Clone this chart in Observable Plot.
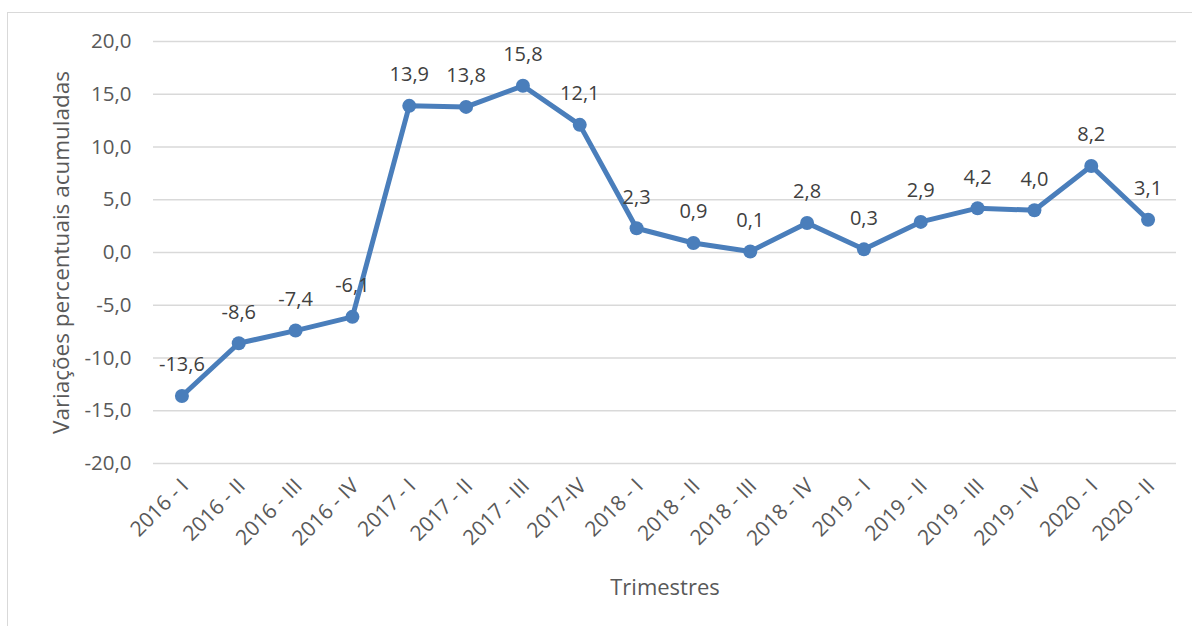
<!DOCTYPE html>
<html>
<head>
<meta charset="utf-8">
<script src="https://cdn.jsdelivr.net/npm/d3@7"></script>
<script src="https://cdn.jsdelivr.net/npm/@observablehq/plot@0.6"></script>
<style>
  html, body { margin: 0; padding: 0; background: #fff; }
  #wrap { position: relative; width: 1192px; height: 626px; overflow: hidden; }
  #border { position: absolute; left: 7px; top: 12px; width: 1300px; height: 800px; border: 1px solid #d9d9d9; box-sizing: border-box; }
  #chart { position: absolute; left: 0; top: 0; }
</style>
</head>
<body>
<div id="wrap"><div id="border"></div><div id="chart"></div></div>
<script>
const categories = ["2016 - I","2016 - II","2016 - III","2016 - IV","2017 - I","2017 - II","2017 - III","2017-IV","2018 - I","2018 - II","2018 - III","2018 - IV","2019 - I","2019 - II","2019 - III","2019 - IV","2020 - I","2020 - II"];
const values = [-13.6,-8.6,-7.4,-6.1,13.9,13.8,15.8,12.1,2.3,0.9,0.1,2.8,0.3,2.9,4.2,4.0,8.2,3.1];
const yTicks = [-20,-15,-10,-5,0,5,10,15,20];
const yTitle = "Variações percentuais acumuladas";
const xTitle = "Trimestres";

const data = categories.map((c, i) => ({cat: c, v: values[i]}));
const fmt = v => v.toFixed(1).replace(".", ",");
const font = "'Open Sans', sans-serif";

const chart = Plot.plot({
  width: 1192,
  height: 626,
  marginLeft: 153,
  marginRight: 16,
  marginTop: 41,
  marginBottom: 163,
  style: {fontFamily: font, background: "transparent", color: "#595959"},
  x: {type: "point", domain: categories, padding: 0.5, round: false},
  y: {domain: [-20, 20]},
  marks: [
    Plot.ruleY(yTicks, {stroke: "#d9d9d9", strokeWidth: 1.3}),
    Plot.axisY(yTicks, {tickSize: 0, tickPadding: 22, tickFormat: fmt, fontSize: 20.5, fill: "#595959", label: null}),
    Plot.axisX({tickSize: 0, tickPadding: 19, tickRotate: -45, fontSize: 21, fill: "#595959", label: null, dx: 3}),
    Plot.text([yTitle], {frameAnchor: "left", dx: -92, rotate: -90, textAnchor: "middle", fontSize: 22.5, fill: "#595959"}),
    Plot.text([xTitle], {frameAnchor: "bottom", dy: 131, fontSize: 22, fill: "#595959"}),
    Plot.line(data, {x: "cat", y: "v", stroke: "#4a7ebb", strokeWidth: 5, strokeLinejoin: "round"}),
    Plot.dot(data, {x: "cat", y: "v", r: 7, fill: "#4a7ebb", stroke: "none"}),
    Plot.text(data, {x: "cat", y: "v", text: d => fmt(d.v), dy: -31, fontSize: 20, fill: "#404040"})
  ]
});
document.getElementById("chart").appendChild(chart);
</script>
</body>
</html>
